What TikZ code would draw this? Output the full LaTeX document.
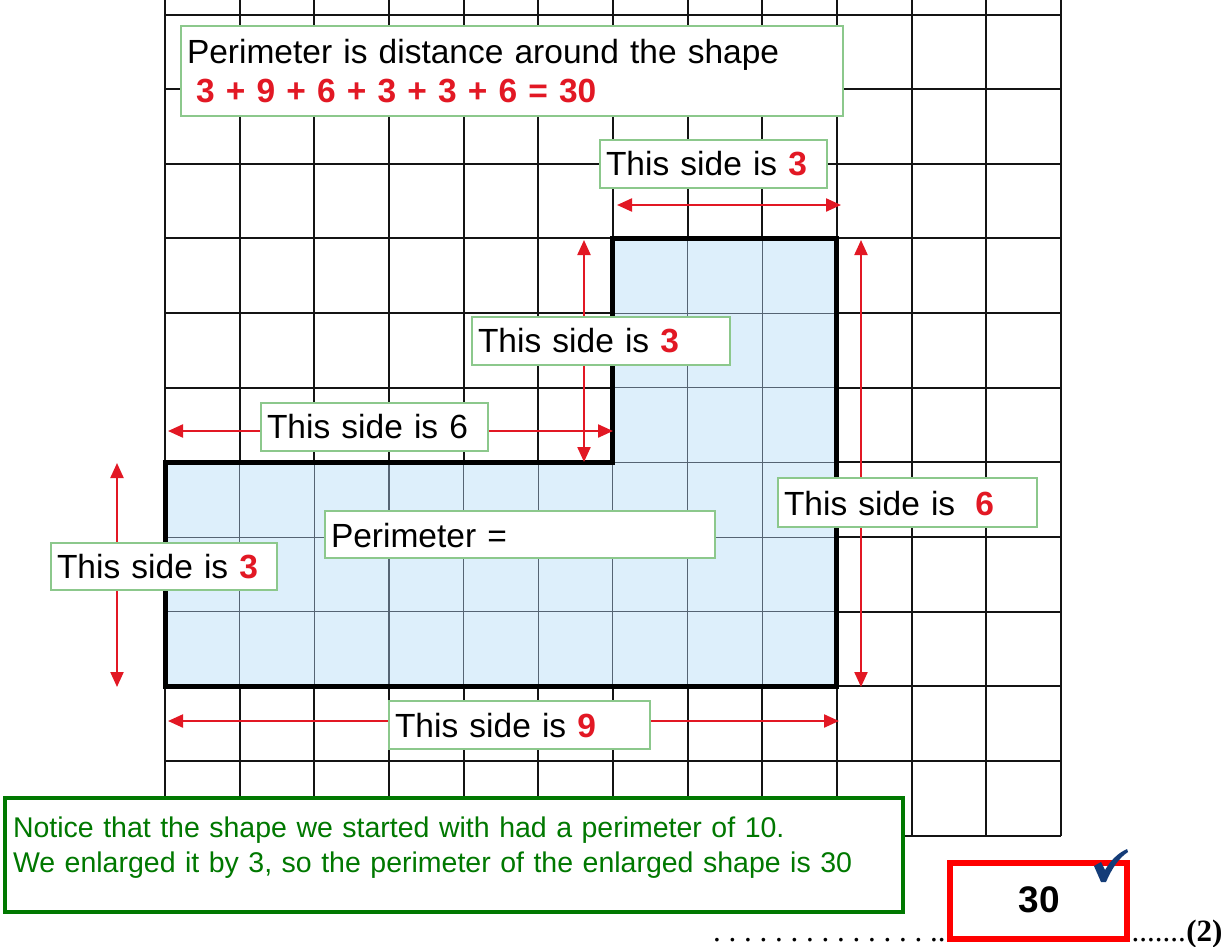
\documentclass[tikz,border=0pt]{standalone}
\usepackage{fontspec}
\setmainfont{Liberation Sans}
\newfontfamily\serifdots{Liberation Serif}
\usetikzlibrary{arrows.meta}
\definecolor{gridblack}{RGB}{20,20,20}
\definecolor{innergrid}{RGB}{85,100,115}
\definecolor{shapefill}{RGB}{221,239,251}
\definecolor{mred}{RGB}{226,24,36}
\definecolor{boxgreen}{RGB}{140,200,140}
\definecolor{notegreen}{RGB}{0,120,0}
\definecolor{boxred}{RGB}{255,0,0}
\definecolor{ticknavy}{RGB}{20,60,120}
\newcommand\rednum[1]{\textcolor{mred}{\bfseries #1}}
\begin{document}
\begin{tikzpicture}[x=1pt,y=-1pt,
  gridline/.style={draw=gridblack,line width=2pt},
  innerline/.style={draw=innergrid,line width=1.1pt},
  outline/.style={draw=black,line width=5pt},
  lbl/.style={draw=boxgreen,line width=1.8pt,fill=white,anchor=north west,
    inner xsep=6pt,inner ysep=0pt,outer sep=0pt,align=left,
    font=\fontsize{33.5}{39}\selectfont},
  dimarrow/.style={draw=mred,line width=2.2pt,
    {Triangle[length=15pt,width=13pt]}-{Triangle[length=15pt,width=13pt]}},
  notebox/.style={draw=notegreen,line width=4pt,fill=white,anchor=north west,
    inner xsep=8pt,inner ysep=0pt,outer sep=0pt,align=left,text=notegreen,
    font=\fontsize{28.5}{35}\selectfont},
  answertext/.style={anchor=base,inner sep=0pt,font=\fontsize{37}{37}\selectfont\bfseries},
  answerframe/.style={draw=boxred,line width=5.5pt},
  dotsline/.style={inner sep=0pt,font=\serifdots\fontsize{31}{31}\selectfont}
]
\useasboundingbox (0,0) rectangle (1231,946);
\fill[white] (0,0) rectangle (1231,946);

% grid
\foreach \i in {0,...,12} \draw[gridline] ({165+\i*74.65},0) -- ({165+\i*74.65},835.65);
\foreach \j in {0,...,11} \draw[gridline] (165,{14.5+\j*74.65}) -- (1060.8,{14.5+\j*74.65});

% L shape
\coordinate (p1) at (165,462.4);
\coordinate (p2) at (612.9,462.4);
\coordinate (p3) at (612.9,238.45);
\coordinate (p4) at (836.85,238.45);
\coordinate (p5) at (836.85,686.35);
\coordinate (p6) at (165,686.35);
\fill[shapefill] (p1) -- (p2) -- (p3) -- (p4) -- (p5) -- (p6) -- cycle;
\begin{scope}
  \clip (p1) -- (p2) -- (p3) -- (p4) -- (p5) -- (p6) -- cycle;
  \foreach \i in {1,...,8} \draw[innerline] ({165+\i*74.65},230) -- ({165+\i*74.65},690);
  \foreach \j in {4,...,8} \draw[innerline] (160,{14.5+\j*74.65}) -- (840,{14.5+\j*74.65});
\end{scope}
\draw[outline] (p1) -- (p2) -- (p3) -- (p4) -- (p5) -- (p6) -- cycle;

% dimension arrows
\coordinate (a1l) at (617,205);   \coordinate (a1r) at (841,205);
\coordinate (a2t) at (584,240);   \coordinate (a2b) at (584,462);
\coordinate (a3l) at (168,431);   \coordinate (a3r) at (613,431);
\coordinate (a4t) at (117,463);   \coordinate (a4b) at (117,687);
\coordinate (a5t) at (861,240);   \coordinate (a5b) at (861,687);
\coordinate (a6l) at (168,721);   \coordinate (a6r) at (839,721);
\draw[dimarrow] (a1l) -- (a1r);
\draw[dimarrow] (a2t) -- (a2b);
\draw[dimarrow] (a3l) -- (a3r);
\draw[dimarrow] (a4t) -- (a4b);
\draw[dimarrow] (a5t) -- (a5b);
\draw[dimarrow] (a6l) -- (a6r);

% labels
\node[lbl,minimum width=227pt,text width=215pt,text height=35pt,text depth=13pt] (s3top) at (600,140) {This side is \rednum{3}};
\node[lbl,minimum width=258pt,text width=246pt,text height=35pt,text depth=13pt] (s3mid) at (472,317) {This side is \rednum{3}};
\node[lbl,minimum width=227pt,text width=215pt,text height=35pt,text depth=13pt] (s6top) at (261,403) {This side is 6};
\node[lbl,minimum width=226pt,text width=214pt,text height=35pt,text depth=12pt] (s3left) at (51,543) {This side is \rednum{3}};
\node[lbl,minimum width=390pt,text width=378pt,text height=36pt,text depth=11pt] (perim) at (325,511) {Perimeter =};
\node[lbl,minimum width=259pt,text width=247pt,text height=37pt,text depth=12pt] (s6right) at (778,478) {This side is\hspace{20pt}\rednum{6}};
\node[lbl,minimum width=261pt,text width=249pt,text height=36pt,text depth=12pt] (s9) at (389,701) {This side is \rednum{9}};

% top explanation box
\node[lbl,minimum width=662pt,text width=650pt,text height=37pt,text depth=53pt] (topbox) at (181,26)
  {Perimeter is distance around the shape\\\hspace*{9pt}\rednum{3 + 9 + 6 + 3 + 3 + 6 = 30}};

% notice box
\node[notebox,minimum width=898pt,text width=882pt,text height=39pt,text depth=75pt] (notice) at (5,798)
  {Notice that the shape we started with had a perimeter of 10.\\We enlarged it by 3, so the perimeter of the enlarged shape is 30};

% dotted answer line
\node[dotsline,anchor=base west] (dots) at (713,941)
  {\frenchspacing . . . . . . . . . . . . . . .................................};
\node[dotsline,anchor=base west] (marks) at (dots.base east) {\textbf{(2)}};

% answer
\draw[answerframe] (950,863) rectangle (1127,939);
\node[answertext] (answer) at (1039,912) {30};

% tick mark
\fill[ticknavy] (1094,866) -- (1101,862) -- (1105,870)
  .. controls (1111,860) and (1118,853) .. (1127,849) -- (1128,852)
  .. controls (1119,858) and (1112,868) .. (1106,882) -- (1101,882) -- cycle;
\end{tikzpicture}
\end{document}
